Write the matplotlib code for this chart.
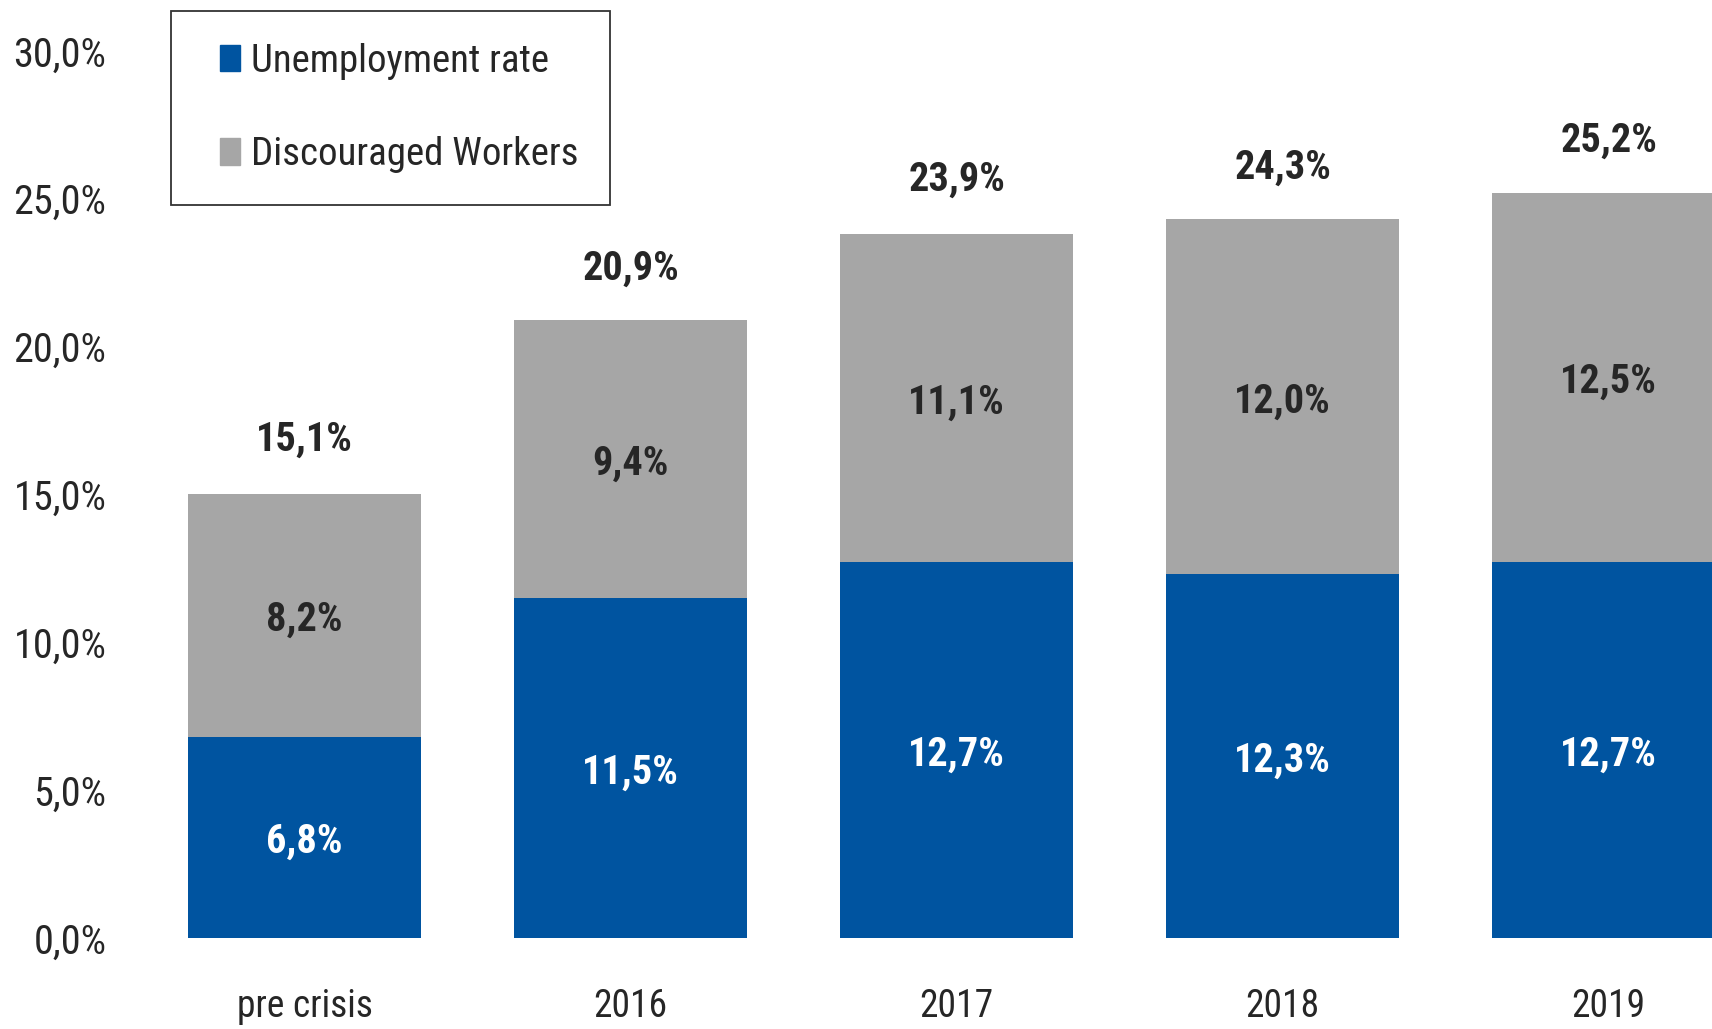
import matplotlib
matplotlib.use("Agg")
from matplotlib import pyplot as plt
from matplotlib import font_manager
from matplotlib.patches import Rectangle
from matplotlib.legend_handler import HandlerPatch
import numpy as np

# pick a narrow sans if one is installed
names = set(f.name for f in font_manager.fontManager.ttflist)
family = 'DejaVu Sans'
for cand in ['Liberation Sans Narrow', 'Roboto Condensed', 'Open Sans Condensed', 'Liberation Sans']:
    if cand in names:
        family = cand
        break
plt.rcParams['font.family'] = family

categories = ['pre crisis', '2016', '2017', '2018', '2019']
unemployment = [6.8, 11.5, 12.7, 12.3, 12.7]
discouraged = [8.2, 9.4, 11.1, 12.0, 12.5]
totals = [15.1, 20.9, 23.9, 24.3, 25.2]
yticks = [0, 5, 10, 15, 20, 25, 30]
series_names = ['Unemployment rate', 'Discouraged Workers']

blue = '#0054a0'
grey = '#a6a6a6'
dark = '#262626'

W, H = 1712, 1029
fig = plt.figure(figsize=(W / 100.0, H / 100.0), dpi=100)
ax = fig.add_axes([130.0 / W, (H - 938.0) / H, (W - 130.0) / W, 938.0 / H])

x = np.arange(len(categories))
ax.bar(x, unemployment, width=0.717, color=blue)
ax.bar(x, discouraged, width=0.717, bottom=unemployment, color=grey)

for i in range(len(categories)):
    ax.text(x[i], unemployment[i] / 2.0 - 0.15, ('%.1f%%' % unemployment[i]).replace('.', ','),
            ha='center', va='center', color='white', fontsize=29, fontweight='bold')
    ax.text(x[i], unemployment[i] + discouraged[i] / 2.0 - 0.15, ('%.1f%%' % discouraged[i]).replace('.', ','),
            ha='center', va='center', color=dark, fontsize=29, fontweight='bold')
    ax.text(x[i], totals[i] + 1.75, ('%.1f%%' % totals[i]).replace('.', ','),
            ha='center', va='center', color=dark, fontsize=29, fontweight='bold')

ax.set_xlim((130 - 304.6) / 326.0, (W - 304.6) / 326.0)
ax.set_ylim(0, 938.0 / 29.57)
ax.set_yticks(yticks)
ax.set_yticklabels([('%.1f%%' % v).replace('.', ',') for v in yticks])
ax.set_xticks(x)
ax.set_xticklabels(categories)
ax.tick_params(axis='y', length=0, pad=17, labelsize=29, labelcolor=dark)
ax.tick_params(axis='x', length=0, pad=36, labelsize=27, labelcolor=dark)
for s in ax.spines.values():
    s.set_visible(False)


# small square sitting at the right end of the handle box
def square(legend, orig_handle, xdescent, ydescent, width, height, fontsize):
    side = 14.4
    return Rectangle((width - xdescent - side, -ydescent), side, height)


handles = [Rectangle((0, 0), 1, 1, color=blue), Rectangle((0, 0), 1, 1, color=grey)]
leg = fig.legend(handles, series_names, loc='upper left',
                 bbox_to_anchor=(171.0 / W, (H - 11.0) / H),
                 fontsize=28, frameon=True, fancybox=False, borderpad=0.82,
                 labelspacing=1.45, handlelength=0.95, handleheight=0.67,
                 handletextpad=0.28, borderaxespad=0,
                 handler_map={Rectangle: HandlerPatch(patch_func=square)})
leg.get_frame().set_edgecolor('black')
leg.get_frame().set_linewidth(1.3)
for t in leg.get_texts():
    t.set_color(dark)

fig.savefig('out.png', dpi=100)
